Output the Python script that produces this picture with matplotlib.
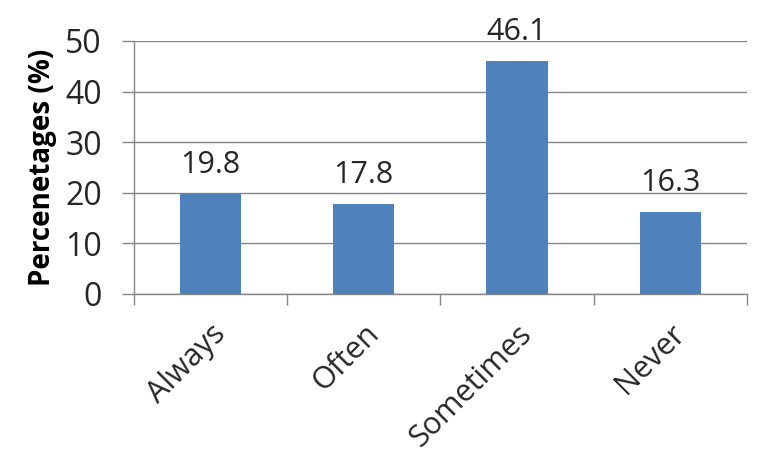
import matplotlib
matplotlib.use("Agg")
import matplotlib.pyplot as plt

categories = ["Always", "Often", "Sometimes", "Never"]
values = [19.8, 17.8, 46.1, 16.3]
y_ticks = [0, 10, 20, 30, 40, 50]

plt.rcParams['font.family'] = ['Open Sans', 'DejaVu Sans']

fig = plt.figure(figsize=(7.59, 4.57), dpi=100)
ax = fig.add_axes([0.1765, 0.3567, 0.984 - 0.1765, 0.9103 - 0.3567])

x = range(len(categories))
ax.bar(x, values, width=0.4, color='#4F81BD', zorder=3)

# value labels above the bars
for i, v in enumerate(values):
    ax.annotate(f"{v:.1f}", (i, v), xytext=(0, 10), textcoords='offset points',
                ha='center', va='bottom', fontsize=22, color='#262626')

ax.set_xlim(-0.5, len(categories) - 0.5)
ax.set_ylim(0, 50)
ax.set_yticks(y_ticks)
ax.yaxis.grid(True, color='#868686', linewidth=1, zorder=0)

# category labels at centers, tick marks at boundaries
ax.set_xticks(list(x))
ax.set_xticklabels(categories, rotation=45, ha='right', rotation_mode='anchor',
                   fontsize=22, color='#262626')
ax.set_xticks([i - 0.5 for i in range(len(categories) + 1)], minor=True)
ax.tick_params(axis='x', which='major', length=0, pad=18)
ax.tick_params(axis='x', which='minor', length=8, color='#868686', width=1)
ax.tick_params(axis='y', length=9, color='#868686', width=1, labelsize=23,
               labelcolor='#262626', pad=14)

for s in ['top', 'right']:
    ax.spines[s].set_visible(False)
for s in ['left', 'bottom']:
    ax.spines[s].set_color('#868686')
    ax.spines[s].set_linewidth(1)

ax.set_ylabel("Percenetages (%)", fontsize=20, fontweight='bold', color='black', labelpad=6)

fig.savefig("out.png", dpi=100)
